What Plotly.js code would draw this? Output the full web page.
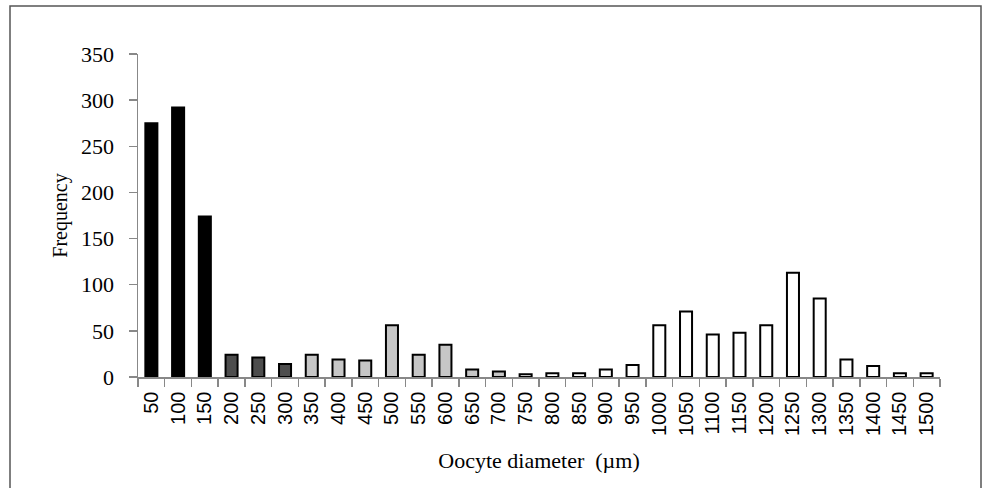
<!DOCTYPE html>
<html>
<head>
<meta charset="utf-8">
<script src="https://cdn.plot.ly/plotly-3.0.1.min.js"></script>
<style>html,body{margin:0;padding:0;background:#fff;}#chart{width:984px;height:488px;}</style>
</head>
<body>
<div id="chart"></div>
<script>
var categories = ["50","100","150","200","250","300","350","400","450","500","550","600","650","700","750","800","850","900","950","1000","1050","1100","1150","1200","1250","1300","1350","1400","1450","1500"];
var frequency = [275,292,174,24,21,14,24,19,18,56,24,35,8,6,3,4,4,8,13,56,71,46,48,56,113,85,19,12,4,4];
var stageColors = ["#000000","#000000","#000000","#4d4d4d","#4d4d4d","#4d4d4d","#c6c6c6","#c6c6c6","#c6c6c6","#c6c6c6","#c6c6c6","#c6c6c6","#c6c6c6","#c6c6c6","#ffffff","#ffffff","#ffffff","#ffffff","#ffffff","#ffffff","#ffffff","#ffffff","#ffffff","#ffffff","#ffffff","#ffffff","#ffffff","#ffffff","#ffffff","#ffffff"];
var yTicks = [0,50,100,150,200,250,300,350];

var trace = {
  type: 'bar',
  x: categories,
  y: frequency,
  marker: {color: stageColors, line: {color: '#000000', width: 2}},
  hoverinfo: 'x+y'
};

var layout = {
  width: 984, height: 488,
  margin: {l: 138, r: 44, t: 54, b: 111},
  paper_bgcolor: '#ffffff', plot_bgcolor: '#ffffff',
  showlegend: false,
  bargap: 0.55,
  xaxis: {
    type: 'category',
    tickson: 'boundaries',
    ticks: 'outside', ticklen: 8, tickcolor: '#888888', tickwidth: 1.5,
    showline: true, linecolor: '#888888', linewidth: 1.5,
    showgrid: false, zeroline: false,
    tickangle: -90,
    ticklabelstandoff: 5,
    tickfont: {family: 'Liberation Sans, Arial, sans-serif', size: 20, color: '#000'},
    title: {text: 'Oocyte diameter  (\u00b5m)', font: {family: 'Liberation Serif, Times New Roman, serif', size: 22, color: '#000'}, standoff: 17}
  },
  yaxis: {
    range: [0, 350],
    tickvals: yTicks,
    ticks: 'outside', ticklen: 8, tickcolor: '#888888', tickwidth: 1.5,
    showline: true, linecolor: '#888888', linewidth: 1.5,
    showgrid: false, zeroline: false,
    ticklabelstandoff: 10,
    tickfont: {family: 'Liberation Serif, Times New Roman, serif', size: 22, color: '#000'},
    title: {text: 'Frequency', font: {family: 'Liberation Serif, Times New Roman, serif', size: 20, color: '#000'}, standoff: 8}
  },
  shapes: [{
    type: 'rect', xref: 'paper', yref: 'paper',
    x0: -128/802, x1: 843/802, y0: -113/323, y1: 1 + 48/323,
    line: {color: '#555555', width: 1.5}, fillcolor: 'rgba(0,0,0,0)'
  }]
};

Plotly.newPlot('chart', [trace], layout, {displayModeBar: false, staticPlot: true});
</script>
</body>
</html>
